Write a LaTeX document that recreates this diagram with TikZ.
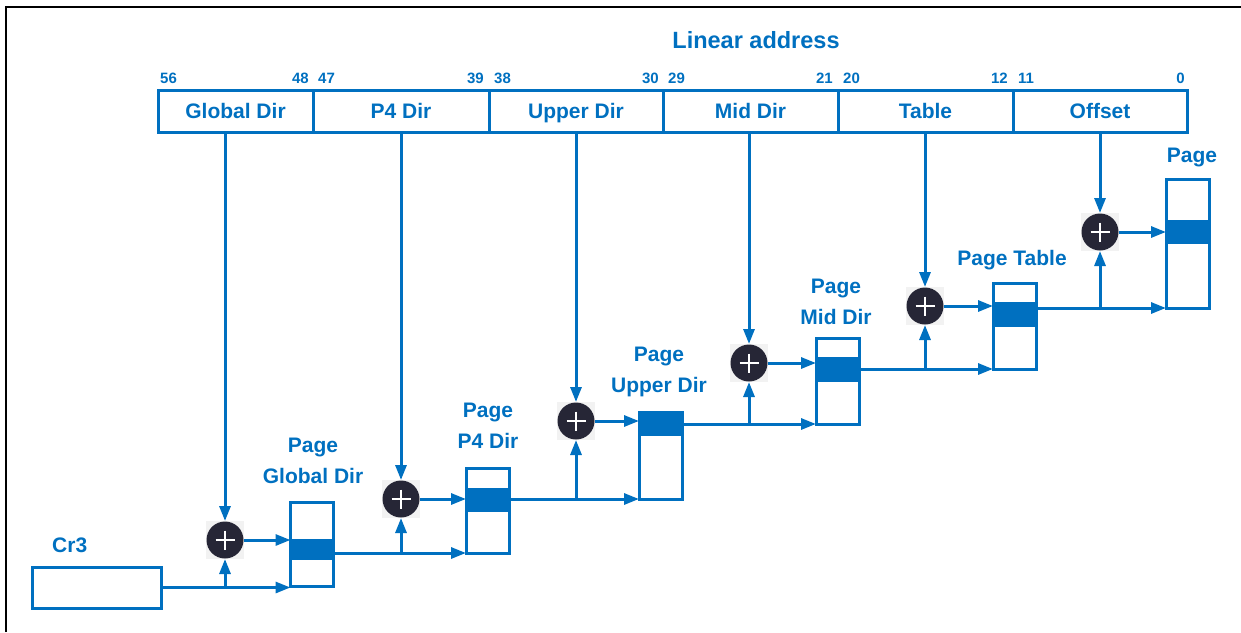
\documentclass[tikz,border=0pt]{standalone}
\usepackage{fontspec}
\setmainfont{Liberation Sans}
\usetikzlibrary{arrows.meta,calc}
\definecolor{mblue}{RGB}{0,112,192}
\definecolor{navy}{RGB}{38,38,54}
\definecolor{lgray}{RGB}{242,242,242}
\begin{document}
\begin{tikzpicture}[x=1pt,y=-1pt,
  txt/.style={text=mblue,font=\fontsize{21}{31}\selectfont\bfseries,inner sep=0pt,align=center},
  bitn/.style={text=mblue,font=\fontsize{15}{16}\selectfont\bfseries,inner sep=0pt},
  fieldbox/.style={draw=mblue,line width=3pt,minimum height=42pt,inner sep=0pt,anchor=center,text=mblue,text height=15pt,text depth=0pt,font=\fontsize{21}{25}\selectfont\bfseries},
  tbl/.style={draw=mblue,line width=3pt,minimum width=43pt,inner sep=0pt,outer sep=0pt},
  band/.style={fill=mblue},
  plusc/.style={rectangle,minimum size=38pt,inner sep=0pt,outer sep=0pt,fill=lgray,
    path picture={
      \fill[navy] (path picture bounding box.center) circle[radius=18.5pt];
      \draw[white,line width=2pt] ($(path picture bounding box.center)+(-9.5,0)$) -- ++(19,0);
      \draw[white,line width=2pt] ($(path picture bounding box.center)+(0,-9.5)$) -- ++(0,19);
    }},
  conn/.style={draw=mblue,line width=3pt},
  arr/.style={conn,-{Triangle[length=15pt,width=11pt]}}
]
\useasboundingbox (0,0) rectangle (1241,632);
\draw[line width=1.8pt,black] (6,632) -- (6,7) -- (1241,7);

% title
\node[txt,font=\fontsize{23.5}{28}\selectfont\bfseries] (title) at (756,40) {Linear address};

% linear address fields
\node[fieldbox,minimum width=155pt] (f1) at (235.5,111) {Global Dir};
\node[fieldbox,minimum width=176pt] (f2) at (401,111) {P4 Dir};
\node[fieldbox,minimum width=174pt] (f3) at (576,111) {Upper Dir};
\node[fieldbox,minimum width=175pt] (f4) at (750.5,111) {Mid Dir};
\node[fieldbox,minimum width=175pt] (f5) at (925.5,111) {Table};
\node[fieldbox,minimum width=174pt] (f6) at (1100,111) {Offset};

% bit numbers
\node[bitn,anchor=west] (n56) at (160,78) {56};
\node[bitn,anchor=east] (n48) at (309,78) {48};
\node[bitn,anchor=west] (n47) at (318,78) {47};
\node[bitn,anchor=east] (n39) at (484,78) {39};
\node[bitn,anchor=west] (n38) at (494,78) {38};
\node[bitn,anchor=east] (n30) at (659,78) {30};
\node[bitn,anchor=west] (n29) at (668,78) {29};
\node[bitn,anchor=east] (n21) at (833,78) {21};
\node[bitn,anchor=west] (n20) at (843,78) {20};
\node[bitn,anchor=east] (n12) at (1008,78) {12};
\node[bitn,anchor=west] (n11) at (1018,78) {11};
\node[bitn,anchor=east] (n0) at (1185,78) {0};

% bands
\fill[band] (291,539) rectangle (333,560);
\fill[band] (466,488) rectangle (509,512);
\fill[band] (639,412) rectangle (682,436);
\fill[band] (816,357) rectangle (859,382);
\fill[band] (993,302) rectangle (1036,327);
\fill[band] (1166,220) rectangle (1209,244);

% table boxes
\node[tbl,minimum height=84pt] (b1) at (312,544) {};
\node[tbl,minimum height=85pt] (b2) at (487.5,510.5) {};
\node[tbl,minimum height=87pt] (b3) at (660.5,455.5) {};
\node[tbl,minimum height=86pt] (b4) at (837.5,381) {};
\node[tbl,minimum height=86pt] (b5) at (1014.5,326) {};
\node[tbl,minimum height=129pt] (b6) at (1187.5,243.5) {};

% Cr3
\node[tbl,minimum width=129pt,minimum height=41pt] (cr3) at (96.5,587.5) {};
\node[txt,anchor=west] (cr3l) at (52,545) {Cr3};

% labels
\node[txt] (l1) at (313,461) {Page\\Global Dir};
\node[txt] (l2) at (488,426) {Page\\P4 Dir};
\node[txt] (l3) at (659,372) {Page\\Upper Dir};
\node[txt] (l4) at (836,302) {Page\\Mid Dir};
\node[txt] (l5) at (1012,260) {Page Table};
\node[txt] (l6) at (1192,157) {Page};

% adders
\node[plusc] (c1) at (225,540) {};
\node[plusc] (c2) at (401,499) {};
\node[plusc] (c3) at (576,421) {};
\node[plusc] (c4) at (749,363) {};
\node[plusc] (c5) at (925,306) {};
\node[plusc] (c6) at (1100,232) {};

% field index lines
\draw[arr] (c1 |- f1.south) -- (c1.north);
\draw[arr] (c2 |- f2.south) -- (c2.north);
\draw[arr] (c3 |- f3.south) -- (c3.north);
\draw[arr] (c4 |- f4.south) -- (c4.north);
\draw[arr] (c5 |- f5.south) -- (c5.north);
\draw[arr] (c6 |- f6.south) -- (c6.north);

% base lines
\draw[arr] (cr3.east) -- (cr3.east -| b1.west);
\draw[arr] (c1 |- cr3.east) -- (c1.south);
\draw[arr] (b1.east |- b2.south) -- (b2.south west);
\draw[arr] (c2 |- b2.south) -- (c2.south);
\draw[arr] (b2.east |- b3.south) -- (b3.south west);
\draw[arr] (c3 |- b3.south) -- (c3.south);
\draw[arr] (b3.east |- b4.south) -- (b4.south west);
\draw[arr] (c4 |- b4.south) -- (c4.south);
\draw[arr] (b4.east |- b5.south) -- (b5.south west);
\draw[arr] (c5 |- b5.south) -- (c5.south);
\draw[arr] (b5.east |- b6.south) -- (b6.south west);
\draw[arr] (c6 |- b6.south) -- (c6.south);

% adder outputs
\draw[arr] (c1.east) -- (c1 -| b1.west);
\draw[arr] (c2.east) -- (c2 -| b2.west);
\draw[arr] (c3.east) -- (c3 -| b3.west);
\draw[arr] (c4.east) -- (c4 -| b4.west);
\draw[arr] (c5.east) -- (c5 -| b5.west);
\draw[arr] (c6.east) -- (c6 -| b6.west);
\end{tikzpicture}
\end{document}
